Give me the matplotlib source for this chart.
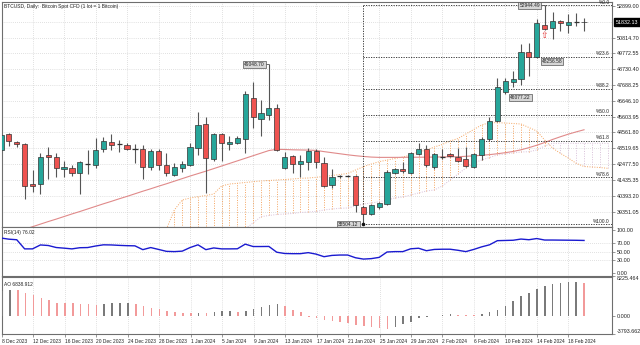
import matplotlib
matplotlib.use("Agg")
import matplotlib.pyplot as plt
from matplotlib.patches import Rectangle
import numpy as np

plt.rcParams["font.family"] = ["Liberation Sans", "DejaVu Sans"]

# ---------------- data ----------------
dates = ["8 Dec 2023", "12 Dec 2023", "16 Dec 2023", "20 Dec 2023", "24 Dec 2023",
         "28 Dec 2023", "1 Jan 2024", "5 Jan 2024", "9 Jan 2024", "13 Jan 2024",
         "17 Jan 2024", "21 Jan 2024", "25 Jan 2024", "29 Jan 2024", "2 Feb 2024",
         "6 Feb 2024", "10 Feb 2024", "14 Feb 2024", "18 Feb 2024"]

opens = [43406, 44441, 43914, 43822, 41145, 41185, 43057, 42925, 42134, 42220,
         41870, 42510, 42418, 43473, 43914, 43800, 43736, 43500, 43492, 42305,
         43341, 42418, 41778, 42200, 42418, 43519, 45101, 42793, 44461, 43822,
         43848, 44112, 46854, 45430, 45714, 46155, 42240, 43011, 42464, 42596,
         43360, 42569, 41099, 41680, 41700, 41713, 39669, 39168, 39669, 39847,
         41910, 42134, 41870, 43123, 43492, 42305, 42960, 43162, 42965, 42793,
         42266, 43097, 44112, 45338, 47230, 47909, 48087, 49886, 49517, 51646,
         51429, 51910, 51646, 51840, 51877]
highs = [44593, 44527, 43999, 43868, 42088, 43189, 43624, 43228, 42701, 42398,
         42701, 43406, 44178, 44283, 44441, 44066, 43848, 43802, 43736, 43452,
         43452, 43189, 42569, 42701, 43848, 45912, 45582, 44508, 44508, 44329,
         44329, 47315, 47909, 46703, 49048.70, 46439, 43294, 43077, 43077, 43519,
         43452, 42925, 42134, 41758, 41758, 41778, 39715, 39827, 39999, 42088,
         42200, 42635, 43294, 43848, 43736, 43228, 43452, 43228, 43558, 43585,
         43228, 44244, 45562, 48133, 48173, 48614, 50374, 50440, 52022, 52944.49,
         52523, 51976, 52372, 52457, 52088]
lows = [43209, 43671, 43624, 40176, 40638, 40526, 41514, 41607, 41646, 41693,
        40486, 41824, 42200, 43294, 43406, 43275, 43406, 42530, 41514, 42088,
        42088, 41693, 41693, 41976, 42371, 43077, 40592, 42701, 42681, 43406,
        43782, 43189, 44837, 44329, 45384, 43341, 42154, 41910, 41646, 42088,
        42200, 40987, 40882, 41580, 41607, 39339, 38504.12, 39122, 39517, 39801,
        41824, 41910, 41824, 43077, 42305, 42134, 42793, 42925, 42635, 42305,
        42220, 42747, 44020, 45285, 47078, 47579, 47691, 48285, 49451, 51317,
        50704, 51251, 51139, 51600, 51251]
closes = [44395, 43999, 43822, 41033, 41033, 42925, 42945, 42200, 42266, 41890,
          42596, 42500, 43406, 43999, 43736, 43790, 43492, 43490, 42305, 43341,
          42418, 41870, 42305, 42464, 43604, 45054, 42859, 44441, 43848, 43914,
          44217, 47078, 45562, 45865, 46155, 43406, 42925, 42464, 42681, 43360,
          42635, 41053, 41607, 41672, 41705, 39801, 39207, 39761, 39893, 41976,
          42134, 42003, 43189, 43492, 42418, 43123, 42965, 43031, 42701, 42352,
          43143, 44151, 45318, 47540, 47955, 48087, 49847, 49517, 51759, 51363,
          51930, 51798, 51864, 51845, 51832.13]

moving_avg = [37680, 37850, 38010, 38180, 38350, 38520, 38690, 38850, 39020, 39190,
              39350, 39520, 39690, 39860, 40020, 40190, 40350, 40520, 40690, 40850,
              41020, 41180, 41350, 41520, 41690, 41850, 42010, 42180, 42350, 42520,
              42690, 42860, 43030, 43200, 43370, 43450, 43440, 43420, 43410, 43400,
              43380, 43300, 43230, 43160, 43090, 43030, 42980, 42940, 42920, 42920,
              42920, 42925, 42930, 42930, 42935, 42940, 42950, 42955, 42965, 42990,
              43020, 43060, 43100, 43160, 43230, 43310, 43420, 43560, 43720, 43900,
              44100, 44280, 44450, 44600, 44740]

# cloud spans start at bar 21 and run 3 bars past the last candle
cloud_start = 21
span_a = [38198, 39452, 40110, 40242, 40328, 40407, 40506, 41033, 41165, 41211,
          41264, 41316, 41363, 41396, 41429, 41462, 41495, 41541, 41561, 41607,
          41660, 41726, 41792, 41857, 42088, 42305, 42484, 42635, 42747, 42846,
          42945, 43077, 43275, 43406, 43604, 43769, 43999, 44164, 44461, 44758,
          45054, 45206, 45206, 45186, 45153, 45120, 44889, 44659, 44066, 43538,
          43189, 42879, 42530, 42319, 42286, 42253, 42200]
span_b = [36800, 36900, 37000, 37100, 37200, 37300, 37450, 37600, 37800, 38000,
          38200, 38600, 39010, 39089, 39155, 39188, 39221, 39287, 39320, 39353,
          39452, 39518, 39564, 39584, 39716, 39848, 39913, 39999, 40110, 40242,
          40308, 40440, 40572, 40704, 40770, 41033, 41429, 41824, 42220, 42550,
          42747, 42912, 43077, 43143, 43209, 43275, 43294, 43406, 43670, 43848,
          43848, 43848, 43848, 43848, 43848, 43848, 43848]

rsi = [81.7, 79.0, 77.7, 56.3, 56.3, 65.5, 64.2, 59.5, 58.0, 56.3,
       59.0, 59.4, 63.0, 65.8, 65.5, 64.5, 63.8, 63.4, 54.5, 59.4,
       55.0, 50.5, 49.9, 51.0, 59.4, 65.8, 54.5, 58.5, 56.3, 56.3,
       56.5, 67.4, 61.8, 61.8, 62.0, 48.5, 45.5, 45.1, 45.1, 47.5,
       44.0, 38.0, 41.0, 41.9, 41.9, 35.5, 32.4, 33.5, 36.4, 49.0,
       49.9, 49.9, 56.5, 57.8, 52.0, 55.0, 55.5, 55.5, 53.0, 49.9,
       55.0, 61.0, 65.8, 75.5, 76.0, 76.5, 79.3, 77.7, 80.5, 77.0,
       77.0, 76.8, 76.6, 76.4, 76.02]

ao = [5300, 5485, 5351, 4883, 4281, 3679, 3344, 2809, 2790, 2676,
      2475, 2408, 2341, 2408, 2609, 2742, 2750, 2542, 2140, 1739,
      1538, 1137, 870, 669, 535, 602, 590, 803, 936, 950,
      736, 1070, 1538, 1940, 2341, 2542, 2140, 1338, 803, -201,
      -468, -870, -1003, -1204, -1472, -1806, -2007, -2341, -2500, -2810,
      -2341, -1739, -1204, -468, -201, 30, 201, 334, 268, 201,
      190, 468, 803, 1338, 2140, 3077, 4147, 4883, 5552, 6288,
      6689, 6957, 7090, 7100, 6838.912]

fib_ratios = [0.0, 0.236, 0.382, 0.5, 0.618, 0.786, 1.0]
price_ticks = [52899.00, 50814.70, 49772.55, 48730.40, 47688.25, 46646.10, 45603.95,
               44561.80, 43519.65, 42477.50, 41435.35, 40393.20, 39351.05]
price_grid_extra = [51856.85]
rsi_levels = [70, 50, 30]
ao_range = (-3793.662, 8225.464)

# ---------------- layout ----------------
W, H = 640, 345
fig = plt.figure(figsize=(W / 100, H / 100), dpi=100)
fig.patch.set_facecolor("white")


def rect(x0, y0, x1, y1):
    return [x0 / W, 1 - y1 / H, (x1 - x0) / W, (y1 - y0) / H]


ax = fig.add_axes(rect(2, 2, 612, 227))
ax_rsi = fig.add_axes(rect(2, 227, 612, 275.5))
ax_ao = fig.add_axes(rect(2, 276.5, 612, 334.2))

n = len(closes)
idx = np.arange(n)
xlim = (0.127, 77.55)
FS = 3.9      # axis numbers
FS_T = 3.5    # words (title, dates, labels)
TXT = "#222222"
GRID = dict(color="#c4c4c4", lw=0.5, ls=(0, (1, 2)))
UP, DN = "#26a69a", "#ef5350"
date_pos = idx[::4][:len(dates)]

for a in (ax, ax_rsi, ax_ao):
    a.set_xlim(*xlim)
    a.set_facecolor("white")
    for s in a.spines.values():
        s.set_color("#6e6e6e")
        s.set_linewidth(0.8)
    a.yaxis.tick_right()
    a.tick_params(axis="y", length=2, width=0.5, pad=1.2, labelsize=FS,
                  colors="#6e6e6e", labelcolor=TXT)
    for xp in date_pos:
        a.axvline(xp, zorder=0, **GRID)

# ---------------- main price panel ----------------
ylo, yhi = 38330.7, 53162.7
ax.set_ylim(ylo, yhi)
ax.set_xticks([])
ax.set_yticks(price_ticks)
ax.set_yticklabels([f"{v:.2f}" for v in price_ticks])
for v in price_ticks + price_grid_extra:
    ax.axhline(v, zorder=0, **GRID)

# Ichimoku-style cloud: dotted verticals between the two spans
cx = np.arange(cloud_start, cloud_start + len(span_a))
sa = np.array(span_a, float)
sb = np.array(span_b, float)
for x, a_, b_ in zip(cx, sa, sb):
    col = "#f4a460" if a_ >= b_ else "#d8bfd8"
    ax.vlines(x, min(a_, b_), max(a_, b_), colors=col, lw=0.7,
              linestyles=(0, (1, 1.5)), zorder=1)
ax.plot(cx, sa, color="#f4a460", lw=0.7, ls=(0, (1, 1.5)), zorder=1)
ax.plot(cx, sb, color="#d8bfd8", lw=0.7, ls=(0, (1, 1.5)), zorder=1)

# moving average
ax.plot(idx, moving_avg, color="#e08a8a", lw=0.8, zorder=2)

# Fibonacci retracement between the swing low and high
hi_i = int(np.argmax(highs))
lo_i = int(np.argmin(lows))
f_hi, f_lo = highs[hi_i], lows[lo_i]
for r in fib_ratios:
    lvl = f_hi - (f_hi - f_lo) * r
    ax.hlines(lvl, lo_i, xlim[1], colors="#222222", lw=0.6,
              linestyles=(0, (1.5, 1.5)), zorder=2)
    ax.annotate(f"%{r * 100:.1f}", xy=(77.25, lvl), xytext=(0, 0.4),
                textcoords="offset points", fontsize=FS_T, color=TXT,
                ha="right", va="bottom", zorder=6)
ax.vlines(lo_i, f_lo, f_hi, colors="#222222", lw=0.6,
          linestyles=(0, (1.5, 1.5)), zorder=2)

# candles
bw = 0.66
for i in idx:
    o, h, l, c = opens[i], highs[i], lows[i], closes[i]
    ax.vlines(i, l, h, colors="#555555", lw=0.8, zorder=3)
    if abs(c - o) < 15:
        ax.hlines((o + c) / 2, i - bw / 2, i + bw / 2, colors="#333333",
                  lw=0.9, zorder=4)
    else:
        col = UP if c > o else DN
        ax.add_patch(Rectangle((i - bw / 2, min(o, c)), bw, abs(c - o),
                               facecolor=col, edgecolor="#333333", lw=0.5,
                               zorder=4))

# price labels
box = dict(boxstyle="square,pad=0.2", fc="#d6d6d6", ec="#555555", lw=0.5)
ax.text(34 - 0.55, 49048.70, "49048.70", fontsize=FS_T, ha="right", va="center",
        color=TXT, bbox=box, zorder=7)
ax.hlines(49048.70, 33.4, 34, colors="#555555", lw=0.6, zorder=6)
ax.text(hi_i - 0.6, f_hi, f"{f_hi:.2f}", fontsize=FS_T, ha="right", va="center",
        color=TXT, bbox=box, zorder=7)
ax.hlines(f_hi, hi_i - 0.7, hi_i, colors="#555555", lw=0.6, zorder=6)
ax.text(lo_i - 0.6, f_lo, f"{f_lo:.2f}", fontsize=FS_T, ha="right", va="center",
        color=TXT, bbox=box, zorder=7)
ax.plot([lo_i], [f_lo], marker="o", ms=1.6, color="#111111", zorder=7)
ax.text(68.6, 49240, "48256.58", fontsize=FS_T, ha="left", va="center",
        color=TXT, bbox=box, zorder=7)
ax.text(64.6, 46880, "46077.22", fontsize=FS_T, ha="left", va="center",
        color=TXT, bbox=box, zorder=7)

# arrow marker under the top candle
ax.text(hi_i, 50950, "\u21e7", fontsize=6.5, color="#e03030", ha="center",
        va="center", zorder=7, family=["DejaVu Sans"])

# last price tag
ax.text(1.006, (closes[-1] - ylo) / (yhi - ylo), f"{closes[-1]:.2f}",
        transform=ax.transAxes, fontsize=FS, color="white", ha="left",
        va="center", bbox=dict(boxstyle="square,pad=0.25", fc="black", ec="black"),
        zorder=8, clip_on=False)

ax.text(0.003, 0.99, "BTCUSD, Daily:  Bitcoin Spot CFD (1 lot = 1 Bitcoin)",
        transform=ax.transAxes, fontsize=FS_T, color=TXT, ha="left", va="top")

# ---------------- RSI panel ----------------
ax_rsi.set_ylim(-6.0, 107.5)
ax_rsi.set_xticks([])
ax_rsi.set_yticks([100, 70, 50, 30, 0])
ax_rsi.set_yticklabels(["100.00", "70.00", "50.00", "30.00", "0.00"])
for lv in rsi_levels:
    ax_rsi.axhline(lv, zorder=0, **GRID)
ax_rsi.plot(idx, rsi, color="#1a1ad0", lw=1.0, zorder=3)
ax_rsi.text(0.003, 0.93, f"RSI(14) {rsi[-1]:.2f}", transform=ax_rsi.transAxes,
            fontsize=FS_T, color=TXT, ha="left", va="top")

# ---------------- AO panel ----------------
ax_ao.set_ylim(*ao_range)
ax_ao.set_yticks([ao_range[1], 0, ao_range[0]])
ax_ao.set_yticklabels([f"{ao_range[1]:.3f}", "0.000", f"{ao_range[0]:.3f}"])
tl = ax_ao.get_yticklabels()
tl[0].set_va("top")
tl[-1].set_va("bottom")
ao_arr = np.array(ao, float)
ao_col = ["#7a7a7a"] + ["#7a7a7a" if ao_arr[k] > ao_arr[k - 1] else "#f29a9a"
                        for k in range(1, n)]
ax_ao.bar(idx, ao_arr, width=0.2, color=ao_col, zorder=3)
ax_ao.text(0.003, 0.9, f"AO {ao[-1]:.3f}", transform=ax_ao.transAxes,
           fontsize=FS_T, color=TXT, ha="left", va="top")

ax_ao.set_xticks(date_pos)
ax_ao.set_xticklabels(dates, ha="left")
ax_ao.tick_params(axis="x", length=2.5, width=0.5, pad=1, labelsize=FS_T,
                  colors="#6e6e6e", labelcolor=TXT)

fig.savefig("out.png", dpi=100, facecolor="white")
